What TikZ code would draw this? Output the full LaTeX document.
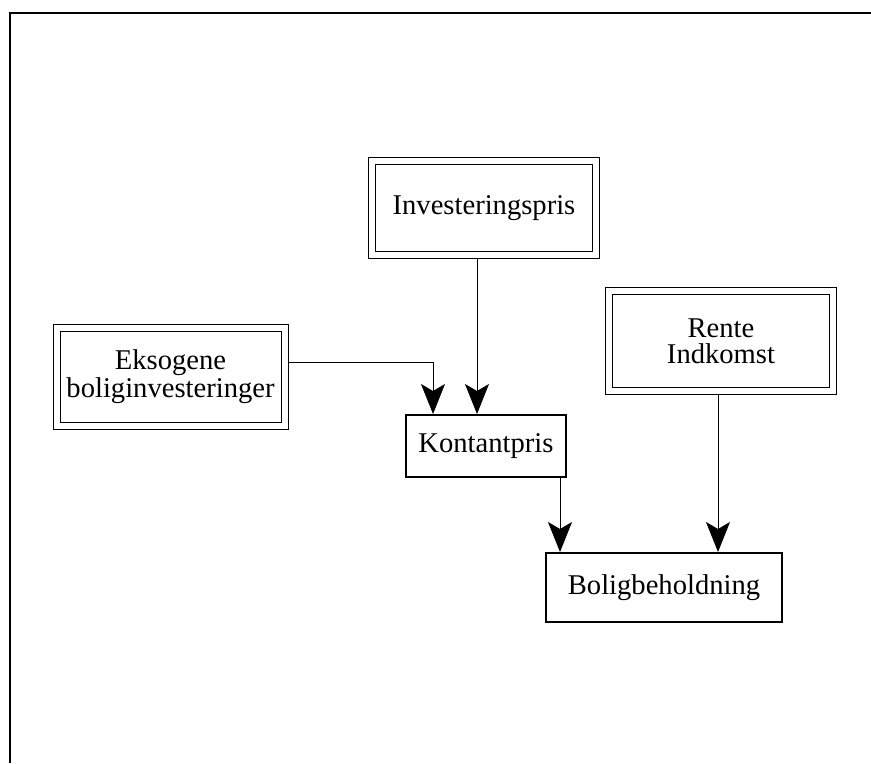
\documentclass[tikz,border=0pt]{standalone}
\usepackage{fontspec}
\setmainfont{Liberation Serif}
\usepackage{tikz}
\usetikzlibrary{calc,arrows.meta}

\begin{document}
\begin{tikzpicture}[x=0.5pt,y=-0.5pt]
            \tikzstyle{every node}=[font=\fontsize{14.3}{13}\selectfont, align=center, inner sep=0pt]
            \tikzstyle{dobbelt}=[draw, line width=0.5pt, double, double distance=3pt]
            \tikzstyle{enkelt}=[draw, line width=1pt]
            \tikzstyle{pil}=[line width=0.45pt, -{Stealth[length=15pt,width=12pt,inset=3.5pt]}]
            \useasboundingbox (0,0) rectangle (871,764);
            \draw[line width=0.8pt] (871,13) -- (10,13) -- (10,763);
            \node[dobbelt, minimum width=112pt, minimum height=47pt] (inv) at (484,208) {Investeringspris};
            \node[dobbelt, minimum width=114pt, minimum height=49pt] (eks) at (170.5,377) {Eksogene\\boliginvesteringer};
            \node[dobbelt, minimum width=112pt, minimum height=50pt] (ren) at (721,341) {Rente\\Indkomst};
            \node[enkelt, minimum width=80pt, minimum height=31pt] (kon) at (486,446) {Kontantpris};
            \node[enkelt, minimum width=118pt, minimum height=34.5pt] (bol) at (664,587.5) {Boligbeholdning};
            \coordinate (e1) at ($(eks.east)+(3.5,-15)$);
            \coordinate (k1) at ($(kon.north)+(-53,0)$);
            \coordinate (k2) at ($(kon.north)+(-9,0)$);
            \coordinate (k3) at ($(kon.south)+(74,0)$);
            \coordinate (r1) at ($(ren.south)+(-3,3.5)$);
            \draw[pil] (e1) -| (k1);
            \draw[pil] ($(k2 |- inv.south)+(0,3.5)$) -- (k2);
            \draw[pil] (k3) -- (k3 |- bol.north);
            \draw[pil] (r1) -- (r1 |- bol.north);
        \end{tikzpicture}
\end{document}
